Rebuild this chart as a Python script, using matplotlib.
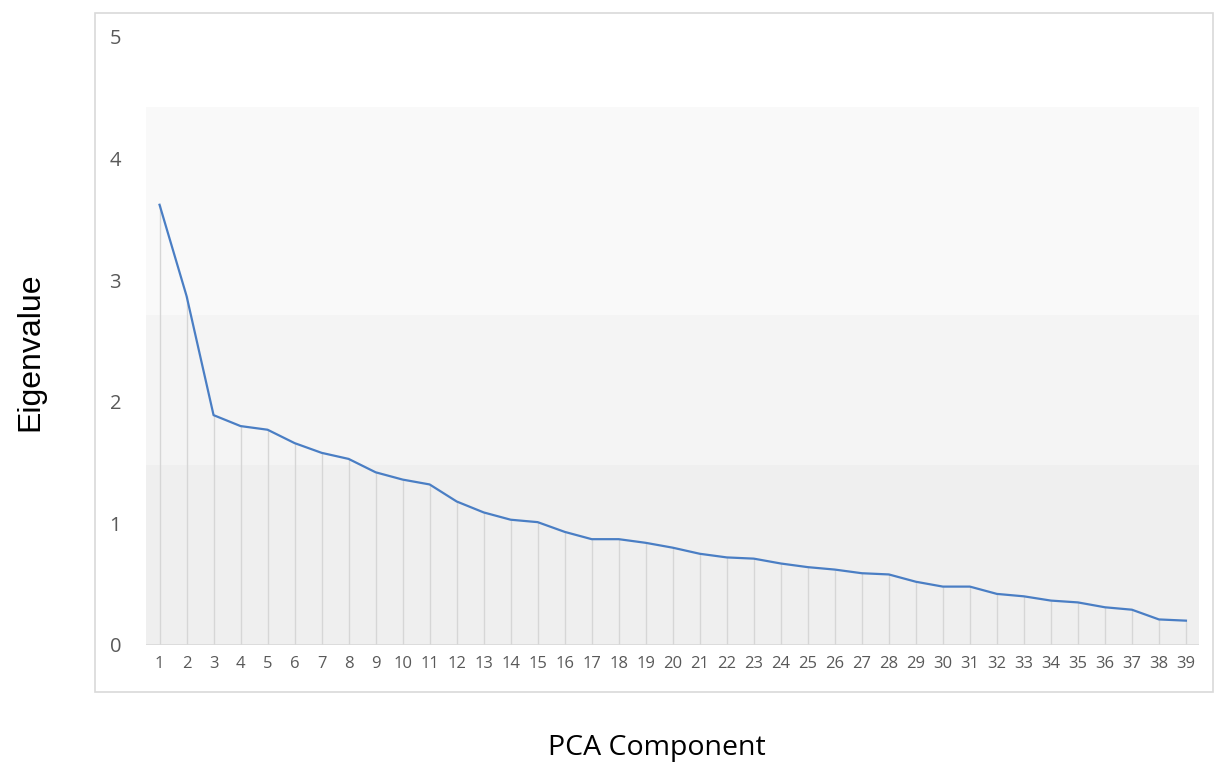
import matplotlib

matplotlib.use("Agg")
import matplotlib.pyplot as plt
from matplotlib.patches import Rectangle

components = list(range(1, 40))
eigenvalues = [3.62, 2.87, 1.89, 1.80, 1.77, 1.66, 1.58, 1.53, 1.42, 1.36,
               1.32, 1.18, 1.09, 1.03, 1.01, 0.93, 0.87, 0.87, 0.84, 0.80,
               0.75, 0.72, 0.71, 0.67, 0.64, 0.62, 0.59, 0.58, 0.52, 0.48,
               0.48, 0.42, 0.40, 0.365, 0.35, 0.31, 0.29, 0.21, 0.20]
y_ticks = [0, 1, 2, 3, 4, 5]
# shaded background bands (lower, upper, colour)
band_edges = [0, 1.48, 2.71, 4.42]
band_colors = ["#efefef", "#f4f4f4", "#f9f9f9"]

fig = plt.figure(figsize=(12.15, 7.65), dpi=100)
fig.patch.set_facecolor("white")

# outer chart frame
fig.patches.append(Rectangle((0.0782, 0.0954), 0.9198, 0.8876, transform=fig.transFigure,
                             fill=False, edgecolor="#d9d9d9", linewidth=1.2, zorder=0))

ax = fig.add_axes([0.1202, 0.1569, 0.8670, 0.7948])
ax.set_xlim(0.5, 39.5)
ax.set_ylim(0, 5)

for lo, hi, c in zip(band_edges[:-1], band_edges[1:], band_colors):
    ax.axhspan(lo, hi, color=c, zorder=0, linewidth=0)

ax.vlines(components, 0, eigenvalues, color="#d6d6d6", linewidth=1.0, zorder=1)
ax.axhline(0, color="#d9d9d9", linewidth=1.2, zorder=1)
ax.plot(components, eigenvalues, color="#4a7ec4", linewidth=1.6, zorder=3)

for s in ax.spines.values():
    s.set_visible(False)

ax.set_yticks(y_ticks)
ax.set_yticklabels([str(v) for v in y_ticks], fontfamily="Open Sans", fontsize=14.5, color="#595959")
ax.set_xticks(components)
ax.set_xticklabels([str(c) for c in components], fontfamily="Open Sans", fontsize=12, color="#595959")
ax.tick_params(axis="y", length=0, pad=18)
ax.tick_params(axis="x", length=0, pad=8)

fig.text(0.025, 0.54, "Eigenvalue", rotation=90, ha="center", va="center",
         fontfamily="Liberation Sans", fontsize=23, color="black")
fig.text(0.541, 0.022, "PCA Component", ha="center", va="center",
         fontfamily="Open Sans", fontsize=20.5, color="black")

fig.savefig("out.png", dpi=100)
plt.close(fig)
